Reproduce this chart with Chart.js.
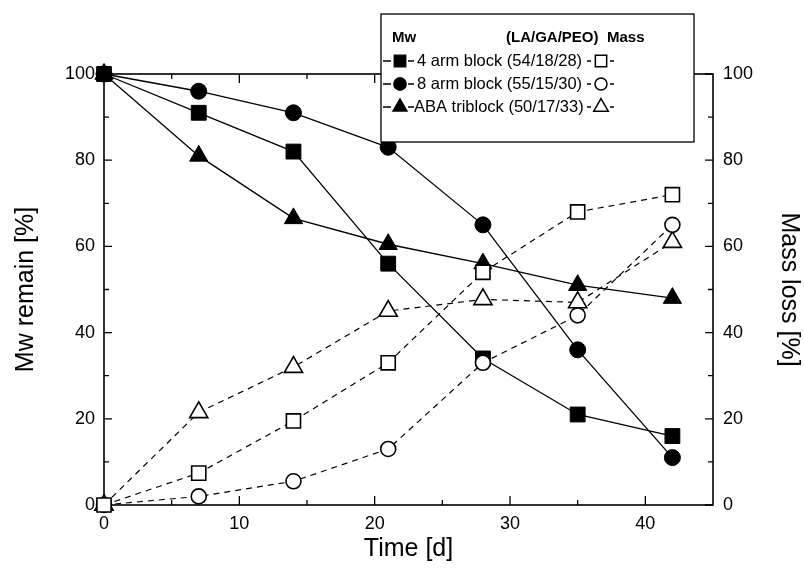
<!DOCTYPE html>
<html>
<head>
<meta charset="utf-8">
<script src="https://cdn.jsdelivr.net/npm/chart.js@4/dist/chart.umd.min.js"></script>
<style>
  html, body { margin: 0; padding: 0; background: #fff; }
</style>
</head>
<body>
<canvas id="chart" width="804" height="575"></canvas>
<script>
// Time [d]
const days = [0, 7, 14, 21, 28, 35, 42];

// Mw remain [%] (filled symbols, solid lines)
const mw4arm = [100, 91, 82, 56, 34, 21, 16];
const mw8arm = [100, 96, 91, 83, 65, 36, 11];
const mwABA  = [100, 81, 66.5, 60.5, 56, 51, 48];

// Mass loss [%] (open symbols, dashed lines)
const mass4arm = [0, 7.4, 19.5, 33, 54, 68, 72];
const mass8arm = [0, 2, 5.5, 13, 33, 44, 65];
const massABA  = [0, 21.5, 32, 45, 47.7, 47, 61];

const seriesNames = ['4 arm block (54/18/28)', '8 arm block (55/15/30)', 'ABA triblock (50/17/33)'];

const xTicks = [0, 10, 20, 30, 40];
const xMinorTicks = [5, 15, 25, 35];
const yTicks = [0, 20, 40, 60, 80, 100];
const yMinorTicks = [10, 30, 50, 70, 90];

const FONT = '"Liberation Sans", Arial, Helvetica, sans-serif';

const points = (ys) => days.map((d, i) => ({x: d, y: ys[i]}));

// marker looks per series: [pointStyle, radius]
const markers = [['rect', 10.5], ['circle', 8], ['triangle', 10.5]];
const openMarkers = [['rect', 10], ['circle', 7.5], ['triangle', 10.5]];

function mwSet(label, ys, i) {
  return {
    label: label,
    data: points(ys),
    yAxisID: 'y',
    borderColor: '#000',
    borderWidth: 1.3,
    backgroundColor: '#000',
    pointStyle: markers[i][0],
    pointRadius: markers[i][1],
    pointBackgroundColor: '#000',
    pointBorderColor: '#000',
    pointBorderWidth: 1,
    tension: 0,
    clip: false,
    order: 2,
  };
}

function massSet(label, ys, i) {
  return {
    label: label,
    data: points(ys),
    yAxisID: 'y2',
    borderColor: '#000',
    borderWidth: 1.2,
    borderDash: [6, 5],
    pointStyle: openMarkers[i][0],
    pointRadius: openMarkers[i][1],
    pointBackgroundColor: '#fff',
    pointBorderColor: '#000',
    pointBorderWidth: 1.6,
    tension: 0,
    clip: false,
    order: 1,
  };
}

// frame with inward ticks on all four sides
const frame = {
  id: 'frame',
  beforeDatasetsDraw(chart) {
    const {ctx, chartArea: a, scales} = chart;
    const x = scales.x, y = scales.y;
    ctx.save();
    ctx.strokeStyle = '#000';
    ctx.lineWidth = 1.6;
    ctx.strokeRect(a.left, a.top, a.right - a.left, a.bottom - a.top);
    ctx.lineWidth = 1.3;
    ctx.beginPath();
    const xt = (v, len) => {
      const px = x.getPixelForValue(v);
      ctx.moveTo(px, a.bottom); ctx.lineTo(px, a.bottom - len);
      ctx.moveTo(px, a.top); ctx.lineTo(px, a.top + len);
    };
    const yt = (v, len) => {
      const py = y.getPixelForValue(v);
      ctx.moveTo(a.left, py); ctx.lineTo(a.left + len, py);
      ctx.moveTo(a.right, py); ctx.lineTo(a.right - len, py);
    };
    xTicks.forEach(v => xt(v, 9));
    xMinorTicks.forEach(v => xt(v, 5));
    yTicks.forEach(v => yt(v, 8));
    yMinorTicks.forEach(v => yt(v, 5));
    ctx.stroke();
    ctx.restore();
  }
};

// boxed legend with Mw / Mass columns
const boxLegend = {
  id: 'boxLegend',
  afterDraw(chart) {
    const ctx = chart.ctx;
    const left = 381, top = 14, right = 694, bottom = 142;
    ctx.save();
    ctx.fillStyle = '#fff';
    ctx.fillRect(left, top, right - left, bottom - top);
    ctx.strokeStyle = '#000';
    ctx.lineWidth = 1.3;
    ctx.strokeRect(left, top, right - left, bottom - top);

    ctx.fillStyle = '#000';
    ctx.textBaseline = 'middle';
    ctx.font = 'bold 15px ' + FONT;
    ctx.fillText('Mw', 392, 38);
    ctx.fillText('(LA/GA/PEO)', 506, 38);
    ctx.fillText('Mass', 607, 38);

    ctx.font = '16.5px ' + FONT;
    const rows = [61, 84, 107];
    rows.forEach((ry, i) => {
      ctx.lineWidth = 1.3;
      ctx.beginPath();
      ctx.moveTo(383, ry); ctx.lineTo(391, ry);
      ctx.moveTo(408, ry); ctx.lineTo(414, ry);
      ctx.moveTo(587, ry); ctx.lineTo(591, ry);
      ctx.moveTo(610, ry); ctx.lineTo(614, ry);
      ctx.stroke();

      ctx.fillStyle = '#000';
      Chart.helpers.drawPoint(ctx, {pointStyle: markers[i][0], radius: markers[i][1] * 0.78, borderWidth: 1}, 400, ry);
      ctx.fillStyle = '#fff';
      ctx.lineWidth = 1.5;
      Chart.helpers.drawPoint(ctx, {pointStyle: openMarkers[i][0], radius: openMarkers[i][1] * 0.8, borderWidth: 1.5}, 601, ry);

      ctx.fillStyle = '#000';
      ctx.fillText(seriesNames[i], i === 2 ? 414 : 417, ry);
    });
    ctx.restore();
  }
};

new Chart(document.getElementById('chart'), {
  type: 'line',
  data: {
    datasets: [
      mwSet('Mw ' + seriesNames[0], mw4arm, 0),
      mwSet('Mw ' + seriesNames[1], mw8arm, 1),
      mwSet('Mw ' + seriesNames[2], mwABA, 2),
      massSet('Mass ' + seriesNames[0], mass4arm, 0),
      massSet('Mass ' + seriesNames[1], mass8arm, 1),
      massSet('Mass ' + seriesNames[2], massABA, 2),
    ]
  },
  options: {
    responsive: false,
    animation: false,
    devicePixelRatio: 1,
    layout: { padding: { top: 74, left: 0, right: 0, bottom: 0 } },
    plugins: { legend: { display: false }, tooltip: { enabled: false } },
    scales: {
      x: {
        type: 'linear',
        min: 0, max: 45,
        afterBuildTicks: s => { s.ticks = xTicks.map(v => ({value: v})); },
        afterFit: s => { s.height = 70; },
        grid: { display: false, drawTicks: false },
        border: { display: false },
        ticks: { color: '#000', padding: 8, font: { family: FONT, size: 18 } },
        title: { display: true, text: 'Time [d]', color: '#000',
                 font: { family: FONT, size: 25 }, padding: { top: 0, bottom: 11 } }
      },
      y: {
        position: 'left',
        min: 0, max: 100,
        afterBuildTicks: s => { s.ticks = yTicks.map(v => ({value: v})); },
        afterFit: s => { s.width = 104; },
        grid: { display: false, drawTicks: false },
        border: { display: false },
        ticks: { color: '#000', padding: 9, font: { family: FONT, size: 18 } },
        title: { display: true, text: 'Mw remain [%]', color: '#000',
                 font: { family: FONT, size: 25 }, padding: { top: 11, bottom: 0 } }
      },
      y2: {
        position: 'right',
        min: 0, max: 100,
        afterBuildTicks: s => { s.ticks = yTicks.map(v => ({value: v})); },
        afterFit: s => { s.width = 91; },
        grid: { display: false, drawTicks: false },
        border: { display: false },
        ticks: { color: '#000', padding: 10, font: { family: FONT, size: 18 } },
        title: { display: true, text: 'Mass loss [%]', color: '#000',
                 font: { family: FONT, size: 25 }, padding: { top: 0, bottom: 0 } }
      }
    }
  },
  plugins: [frame, boxLegend]
});
</script>
</body>
</html>
